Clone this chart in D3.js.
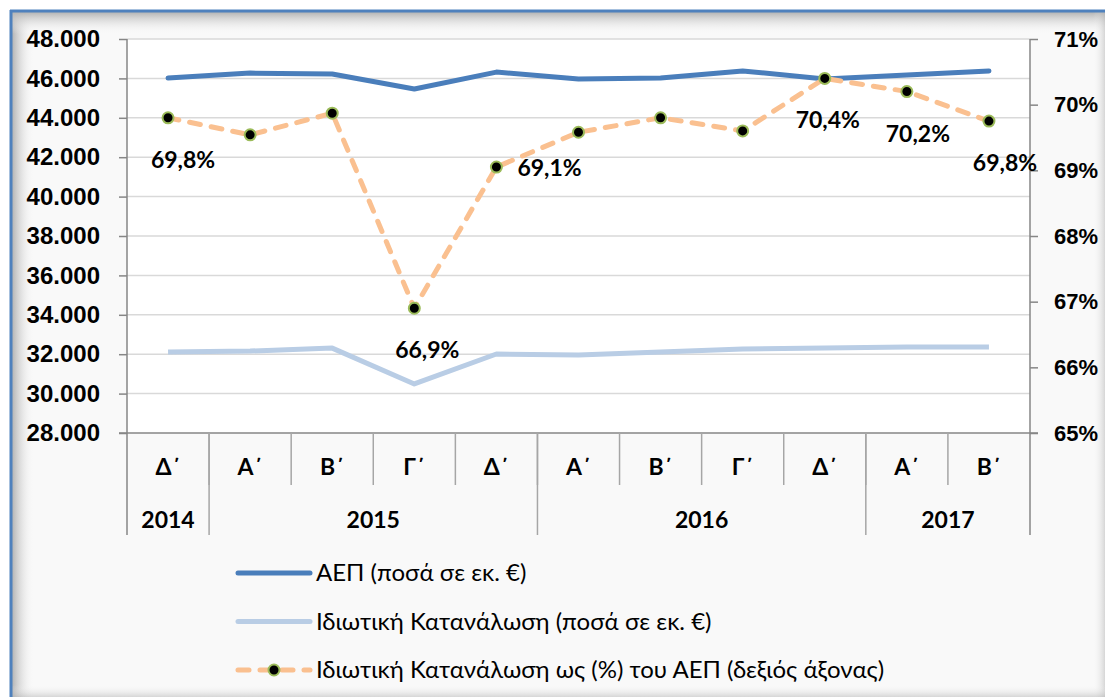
<!DOCTYPE html>
<html lang="el">
<head>
<meta charset="UTF-8">
<script src="https://cdn.jsdelivr.net/npm/d3@7"></script>
<title>ΑΕΠ και Ιδιωτική Κατανάλωση</title>
<style>
  body { margin: 0; background: #ffffff; }
  svg { display: block; font-family: Lato, "Open Sans", sans-serif; }
  .ytick text { font-size: 24px; font-weight: bold; fill: #000; }
  .rtick text { font-size: 22px; font-weight: bold; fill: #000; }
  .cat { font-size: 23px; font-weight: bold; fill: #000; }
  .lbl { font-size: 23px; font-weight: bold; fill: #000; }
  .leg { font-size: 24px; fill: #000; }
</style>
</head>
<body>
<div id="chart"></div>
<script>
// quarters and years
var quarters = ["Δ΄", "Α΄", "Β΄", "Γ΄", "Δ΄", "Α΄", "Β΄", "Γ΄", "Δ΄", "Α΄", "Β΄"];
var years = [
  {year: "2014", span: 1},
  {year: "2015", span: 4},
  {year: "2016", span: 4},
  {year: "2017", span: 2}
];

// values
var gdp = [46020, 46270, 46220, 45460, 46320, 45970, 46020, 46380, 45970, 46170, 46380];
var consumption = [32110, 32160, 32310, 30490, 32010, 31960, 32110, 32260, 32310, 32360, 32360];
var share = [69.8, 69.54, 69.87, 66.9, 69.05, 69.58, 69.8, 69.6, 70.4, 70.2, 69.75];

// data labels (index, text, placement)
var shareLabels = [
  {i: 0, text: "69,8%", pos: "below", dx: 15},
  {i: 3, text: "66,9%", pos: "below", dx: 13},
  {i: 4, text: "69,1%", pos: "right", dx: 0},
  {i: 8, text: "70,4%", pos: "below", dx: 3},
  {i: 9, text: "70,2%", pos: "below", dx: 11},
  {i: 10, text: "69,8%", pos: "below", dx: 16}
];

var leftTicks = d3.range(28000, 48001, 2000);
var rightTicks = d3.range(65, 71.1, 1);

var legendItems = [
  "ΑΕΠ (ποσά σε εκ. €)",
  "Ιδιωτική Κατανάλωση (ποσά σε εκ. €)",
  "Ιδιωτική Κατανάλωση ως (%) του ΑΕΠ (δεξιός άξονας)"
];

var W = 1105, H = 697;
var margin = {top: 39, left: 127, right: 1105 - 1030, bottom: 697 - 433};
var width = W - margin.left - margin.right;
var height = H - margin.top - margin.bottom;

var svg = d3.select("#chart").append("svg")
  .attr("width", W)
  .attr("height", H);

// frame background with inner shadow
var defs = svg.append("defs");
function grad(id, x1, y1, x2, y2) {
  var g = defs.append("linearGradient").attr("id", id)
    .attr("x1", x1).attr("y1", y1).attr("x2", x2).attr("y2", y2);
  g.append("stop").attr("offset", "0%").attr("stop-color", "#b3b3b3");
  g.append("stop").attr("offset", "100%").attr("stop-color", "#f9f9f9").attr("stop-opacity", 0);
}
grad("shL", 0, 0, 1, 0);
grad("shT", 0, 0, 0, 1);
grad("shR", 1, 0, 0, 0);
grad("shB", 0, 1, 0, 0);

svg.append("rect").attr("x", 10).attr("y", 10).attr("width", W - 10).attr("height", H - 10)
  .attr("fill", "#f9f9f9");
svg.append("rect").attr("x", 12).attr("y", 12).attr("width", 22).attr("height", H - 12).attr("fill", "url(#shL)");
svg.append("rect").attr("x", 12).attr("y", 12).attr("width", W - 12).attr("height", 22).attr("fill", "url(#shT)");
svg.append("rect").attr("x", W - 12).attr("y", 12).attr("width", 12).attr("height", H - 12).attr("fill", "url(#shR)").attr("opacity", 0.5);
svg.append("rect").attr("x", 12).attr("y", H - 12).attr("width", W - 12).attr("height", 12).attr("fill", "url(#shB)").attr("opacity", 0.5);
svg.append("line").attr("x1", 11).attr("x2", 11).attr("y1", 10).attr("y2", H).attr("stroke", "#4f81bd").attr("stroke-width", 3);
svg.append("line").attr("x1", 10).attr("x2", W).attr("y1", 11).attr("y2", 11).attr("stroke", "#4f81bd").attr("stroke-width", 3);

var g = svg.append("g").attr("transform", "translate(" + margin.left + "," + margin.top + ")");

// plot area
g.append("rect").attr("width", width).attr("height", height).attr("fill", "#ffffff");

var x = d3.scaleBand().domain(d3.range(quarters.length)).range([0, width]);
var yL = d3.scaleLinear().domain([28000, 48000]).range([height, 0]);
var yR = d3.scaleLinear().domain([65, 71]).range([height, 0]);
var cx = function(i) { return x(i) + x.bandwidth() / 2; };

// gridlines
g.selectAll(".grid").data(leftTicks.slice(1)).enter().append("line")
  .attr("x1", 0).attr("x2", width)
  .attr("y1", function(d) { return yL(d); }).attr("y2", function(d) { return yL(d); })
  .attr("stroke", "#d9d9d9").attr("stroke-width", 1.5);

// left axis
var fmt = function(d) { return d3.format(",")(d).replace(",", "."); };
var axL = g.append("g").call(d3.axisLeft(yL).tickValues(leftTicks).tickFormat(fmt).tickSize(8).tickPadding(19));
axL.select(".domain").remove();
axL.selectAll(".tick").attr("class", "tick ytick");
axL.selectAll("line").attr("stroke", "#868686").attr("stroke-width", 1.5);

// right axis
var axR = g.append("g").attr("transform", "translate(" + width + ",0)")
  .call(d3.axisRight(yR).tickValues(rightTicks).tickFormat(function(d) { return d + "%"; }).tickSize(8).tickPadding(16));
axR.select(".domain").remove();
axR.selectAll(".tick").attr("class", "tick rtick");
axR.selectAll("line").attr("stroke", "#868686").attr("stroke-width", 1.5);

// vertical axis lines
var axisCol = "#868686";
g.append("line").attr("x1", 0).attr("x2", 0).attr("y1", 0).attr("y2", height + 102)
  .attr("stroke", axisCol).attr("stroke-width", 1.5);
g.append("line").attr("x1", width).attr("x2", width).attr("y1", 0).attr("y2", height + 102)
  .attr("stroke", axisCol).attr("stroke-width", 1.5);
// bottom axis line
g.append("line").attr("x1", -8).attr("x2", width + 8).attr("y1", height).attr("y2", height)
  .attr("stroke", axisCol).attr("stroke-width", 1.5);

// category dividers, first row
g.selectAll(".qdiv").data(d3.range(1, quarters.length)).enter().append("line")
  .attr("x1", function(d) { return x(d); }).attr("x2", function(d) { return x(d); })
  .attr("y1", height).attr("y2", height + 52)
  .attr("stroke", "#a6a6a6").attr("stroke-width", 1.5);

g.selectAll(".qlab").data(quarters).enter().append("text")
  .attr("class", "cat")
  .attr("x", function(d, i) { return cx(i); })
  .attr("y", height + 42)
  .attr("text-anchor", "middle")
  .text(function(d) { return d; });

// year groups
var start = 0;
years.forEach(function(yr) {
  yr.start = start;
  start += yr.span;
});
g.selectAll(".ydiv").data(years.slice(1)).enter().append("line")
  .attr("x1", function(d) { return x(d.start); }).attr("x2", function(d) { return x(d.start); })
  .attr("y1", height).attr("y2", height + 102)
  .attr("stroke", "#a6a6a6").attr("stroke-width", 1.5);
g.selectAll(".ylab").data(years).enter().append("text")
  .attr("class", "cat")
  .attr("x", function(d) { return (x(d.start) + x(d.start + d.span - 1) + x.bandwidth()) / 2; })
  .attr("y", height + 95)
  .attr("text-anchor", "middle")
  .text(function(d) { return d.year; });

// lines
var lineL = function(arr) {
  return d3.line().x(function(d, i) { return cx(i); }).y(function(d) { return yL(d); })(arr);
};
g.append("path").attr("d", lineL(consumption)).attr("fill", "none")
  .attr("stroke", "#b9cde5").attr("stroke-width", 5).attr("stroke-linejoin", "round");
g.append("path").attr("d", lineL(gdp)).attr("fill", "none")
  .attr("stroke", "#4a7ebb").attr("stroke-width", 5).attr("stroke-linecap", "round").attr("stroke-linejoin", "round");

var lineR = d3.line().x(function(d, i) { return cx(i); }).y(function(d) { return yR(d); });
g.append("path").attr("d", lineR(share)).attr("fill", "none")
  .attr("stroke", "#fac090").attr("stroke-width", 5)
  .attr("stroke-dasharray", "11,11").attr("stroke-linecap", "round");

g.selectAll(".mk").data(share).enter().append("circle")
  .attr("cx", function(d, i) { return cx(i); })
  .attr("cy", function(d) { return yR(d); })
  .attr("r", 5.5)
  .attr("fill", "#000").attr("stroke", "#9bbb59").attr("stroke-width", 2);

g.selectAll(".lbl").data(shareLabels).enter().append("text")
  .attr("class", "lbl")
  .attr("x", function(d) { return d.pos === "right" ? cx(d.i) + 21 : cx(d.i) + d.dx; })
  .attr("y", function(d) { return d.pos === "right" ? yR(share[d.i]) + 9 : yR(share[d.i]) + 50; })
  .attr("text-anchor", function(d) { return d.pos === "right" ? "start" : "middle"; })
  .text(function(d) { return d.text; });

// legend
var leg = svg.append("g").attr("transform", "translate(238,573)");
var legRow = 48.5;
leg.append("line").attr("x1", 0).attr("x2", 72).attr("y1", 0).attr("y2", 0)
  .attr("stroke", "#4a7ebb").attr("stroke-width", 5).attr("stroke-linecap", "round");
leg.append("line").attr("x1", 0).attr("x2", 72).attr("y1", legRow).attr("y2", legRow)
  .attr("stroke", "#b9cde5").attr("stroke-width", 5).attr("stroke-linecap", "round");
leg.append("line").attr("x1", 0).attr("x2", 72).attr("y1", legRow * 2).attr("y2", legRow * 2)
  .attr("stroke", "#fac090").attr("stroke-width", 5).attr("stroke-linecap", "round")
  .attr("stroke-dasharray", "11,11");
leg.append("circle").attr("cx", 36).attr("cy", legRow * 2).attr("r", 5.5)
  .attr("fill", "#000").attr("stroke", "#9bbb59").attr("stroke-width", 2);
leg.selectAll(".leg").data(legendItems).enter().append("text")
  .attr("class", "leg")
  .attr("x", 78)
  .attr("y", function(d, i) { return i * legRow + 8; })
  .text(function(d) { return d; });
</script>
</body>
</html>
